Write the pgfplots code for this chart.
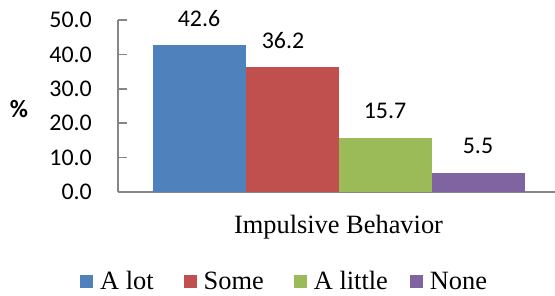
\documentclass[border=0pt]{standalone}
\usepackage{pgfplots}
\pgfplotsset{compat=1.18}
\usepackage{fontspec}
\setmainfont{Liberation Serif}
\newfontfamily\carlito{Carlito}
\definecolor{cblue}{HTML}{4F81BD}
\definecolor{cred}{HTML}{C0504D}
\definecolor{cgreen}{HTML}{9BBB59}
\definecolor{cpurple}{HTML}{8064A2}
\definecolor{axgray}{HTML}{868686}
\begin{document}
\begin{tikzpicture}
\useasboundingbox (-118bp,-104bp) rectangle (437bp,192bp);
\begin{axis}[
  at={(0,0)}, anchor=south west,
  scale only axis, width=437bp, height=172bp,
  xmin=-220.5, xmax=216.5, ymin=0, ymax=50,
  ybar=0pt, bar width=93bp,
  axis x line*=bottom, axis y line*=left,
  axis line style={axgray, line width=1.5bp},
  ytick={0,10,20,30,40,50},
  xtick={0}, xticklabels={Impulsive Behavior},
  xtick style={draw=none},
  ytick style={axgray, line width=1.5bp},
  tick align=inside, major tick length=9bp,
  /pgf/number format/.cd, fixed, fixed zerofill, precision=1, assume math mode=true, /pgfplots/.cd,
  yticklabel style={font=\carlito\fontsize{24}{24}\selectfont, inner sep=0pt, xshift=-26bp},
  xticklabel style={font=\fontsize{26.5}{26.5}\selectfont, inner sep=0pt, yshift=-23bp},
  ylabel={\%},
  ylabel style={rotate=-90, at={(axis description cs:0,0.5)}, anchor=center, xshift=-99bp, yshift=-3bp, font=\carlito\bfseries\fontsize{25}{25}\selectfont},
  nodes near coords={\pgfmathprintnumber[fixed,fixed zerofill,precision=1,assume math mode=true]{\pgfplotspointmeta}},
  nodes near coords style={font=\carlito\fontsize{24}{24}\selectfont, inner sep=0pt, anchor=south, yshift=19bp, text=black},
  legend columns=4,
  legend style={at={(axis description cs:0,0)}, anchor=north west, xshift=-38bp, yshift=-79bp,
    draw=none, fill=none, inner sep=0pt, font=\fontsize{26.5}{26.5}\selectfont,
    nodes={inner sep=0pt},
    /tikz/column 1/.style={column sep=7bp},
    /tikz/column 3/.style={column sep=7bp},
    /tikz/column 5/.style={column sep=7bp},
    /tikz/column 7/.style={column sep=7bp},
    /tikz/column 2/.style={column sep=30bp},
    /tikz/column 4/.style={column sep=30bp},
    /tikz/column 6/.style={column sep=22bp}},
  legend image code/.code={\fill[#1] (0bp,-6.5bp) rectangle (13bp,6.5bp);},
]
\addplot[fill=cblue, draw=none] coordinates {(0,42.6)};
\addplot[fill=cred, draw=none, every node near coord/.append style={xshift=-9bp}] coordinates {(0,36.2)};
\addplot[fill=cgreen, draw=none] coordinates {(0,15.7)};
\addplot[fill=cpurple, draw=none] coordinates {(0,5.5)};
\legend{A lot, Some, A little, None}
\end{axis}
\end{tikzpicture}
\end{document}
